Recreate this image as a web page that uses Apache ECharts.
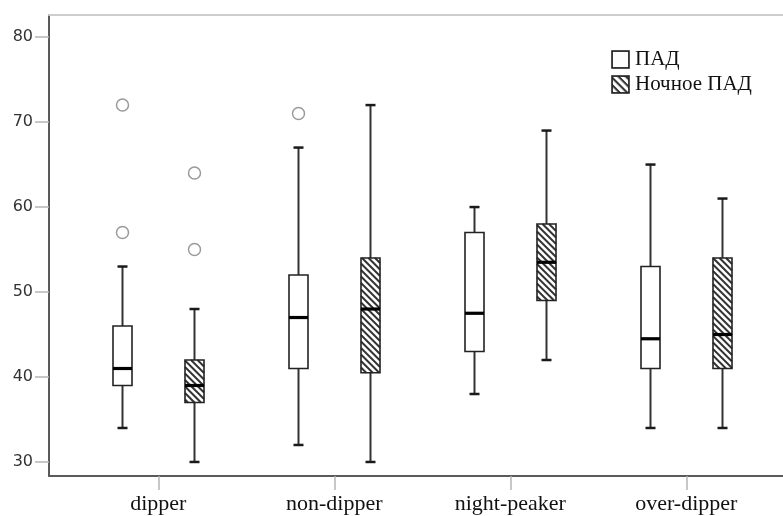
<!DOCTYPE html>
<html>
<head>
<meta charset="utf-8">
<script src="https://cdn.jsdelivr.net/npm/echarts@6/dist/echarts.min.js"></script>
<style>
html,body{margin:0;padding:0;background:#fff;}
#chart{width:783px;height:516px;}
</style>
</head>
<body>
<div id="chart"></div>
<script>
// ---- data ----
const categories = ['dipper', 'non-dipper', 'night-peaker', 'over-dipper'];
const seriesNames = ['ПАД', 'Ночное ПАД'];
const padMin = [34, 32, 38, 34];
const padQ1 = [39, 41, 43, 41];
const padMedian = [41, 47, 47.5, 44.5];
const padQ3 = [46, 52, 57, 53];
const padMax = [53, 67, 60, 65];
const padOutliers = [[72, 57], [71], [], []];
const nightMin = [30, 30, 42, 34];
const nightQ1 = [37, 40.5, 49, 41];
const nightMedian = [39, 48, 53.5, 45];
const nightQ3 = [42, 54, 58, 54];
const nightMax = [48, 72, 69, 61];
const nightOutliers = [[64, 55], [], [], []];
const yTicks = [30, 40, 50, 60, 70, 80];
const xTicks = [1, 2, 3, 4];

// ---- styles ----
const BOX_W = 19;
const CAP_W = 10;
const OFFSET = 35.8;
const STRIPE_STEP = 6.5;
const X_MIN = 0.379, X_MAX = 4.5495;

function buildData(mn, q1, md, q3, mx) {
  return categories.map((c, i) => [i + 1, mn[i], q1[i], md[i], q3[i], mx[i]]);
}

function makeRender(offsetPx, striped, outliers) {
  return function (params, api) {
    const i = params.dataIndex;
    const x = api.value(0);
    const pMin = api.coord([x, api.value(1)]);
    const pQ1 = api.coord([x, api.value(2)]);
    const pMed = api.coord([x, api.value(3)]);
    const pQ3 = api.coord([x, api.value(4)]);
    const pMax = api.coord([x, api.value(5)]);
    const cx = Math.round(pMin[0] + offsetPx) + 0.5;
    const half = BOX_W / 2;
    const x0 = cx - half, x1 = cx + half;
    const y0 = pQ3[1], y1 = pQ1[1];
    const children = [];
    const wStyle = { stroke: '#333', lineWidth: 2 };
    const cStyle = { stroke: '#1a1a1a', lineWidth: 2.5 };
    children.push({ type: 'line', shape: { x1: cx, y1: pMax[1], x2: cx, y2: y0 }, style: wStyle });
    children.push({ type: 'line', shape: { x1: cx, y1: y1, x2: cx, y2: pMin[1] }, style: wStyle });
    children.push({ type: 'line', shape: { x1: cx - CAP_W / 2, y1: pMax[1], x2: cx + CAP_W / 2, y2: pMax[1] }, style: cStyle });
    children.push({ type: 'line', shape: { x1: cx - CAP_W / 2, y1: pMin[1], x2: cx + CAP_W / 2, y2: pMin[1] }, style: cStyle });
    children.push({ type: 'rect', shape: { x: x0, y: y0, width: BOX_W, height: y1 - y0 }, style: { fill: '#fff', stroke: null } });
    if (striped) {
      const cStart = y0 - x1, cEnd = y1 - x0;
      const phase = Math.floor(cStart / STRIPE_STEP) * STRIPE_STEP;
      for (let c = phase; c <= cEnd; c += STRIPE_STEP) {
        const lo = Math.max(x0, y0 - c);
        const hi = Math.min(x1, y1 - c);
        if (hi > lo) {
          children.push({ type: 'line', shape: { x1: lo, y1: lo + c, x2: hi, y2: hi + c }, style: { stroke: '#333', lineWidth: 2 } });
        }
      }
    }
    children.push({ type: 'rect', shape: { x: x0, y: y0, width: BOX_W, height: y1 - y0 }, style: { fill: null, stroke: '#222', lineWidth: 1.6 } });
    children.push({ type: 'line', shape: { x1: x0, y1: pMed[1], x2: x1, y2: pMed[1] }, style: { stroke: '#000', lineWidth: 3.2 } });
    (outliers[i] || []).forEach(v => {
      const p = api.coord([x, v]);
      children.push({ type: 'circle', shape: { cx: cx, cy: p[1], r: 6 }, style: { fill: null, stroke: '#9a9a9a', lineWidth: 1.5 } });
    });
    return { type: 'group', children: children };
  };
}

const plainIcon = 'image://data:image/svg+xml;charset=utf-8,' + encodeURIComponent(
  "<svg xmlns='http://www.w3.org/2000/svg' width='18' height='18'><rect x='1' y='1' width='16' height='16' fill='#fff' stroke='#222' stroke-width='1.6'/></svg>");
const stripedIcon = 'image://data:image/svg+xml;charset=utf-8,' + encodeURIComponent(
  "<svg xmlns='http://www.w3.org/2000/svg' width='18' height='18'><defs><pattern id='p' width='5' height='5' patternUnits='userSpaceOnUse' patternTransform='rotate(45)'><rect width='5' height='2' fill='#333'/></pattern></defs><rect x='1' y='1' width='16' height='16' fill='#fff'/><rect x='1' y='1' width='16' height='16' fill='url(#p)' stroke='#222' stroke-width='1.6'/></svg>");

const chart = echarts.init(document.getElementById('chart'), null, { renderer: 'canvas' });
chart.setOption({
  backgroundColor: '#fff',
  animation: false,
  grid: { left: 49, top: 15, right: 0, bottom: 40, show: false },
  legend: {
    orient: 'vertical', left: 611, top: 49, padding: 0, itemWidth: 19, itemHeight: 19, itemGap: 4,
    selectedMode: false,
    textStyle: { fontFamily: 'Liberation Serif', fontSize: 21, color: '#111' },
    data: [{ name: seriesNames[0], icon: plainIcon }, { name: seriesNames[1], icon: stripedIcon }]
  },
  xAxis: [{
    type: 'value', min: X_MIN, max: X_MAX,
    splitLine: { show: false },
    axisLine: { show: true, lineStyle: { color: '#5a5a5a', width: 2 } },
    axisTick: { show: true, length: 14, customValues: xTicks, lineStyle: { color: '#b5b5b5', width: 1.5 } },
    axisLabel: {
      customValues: xTicks, margin: 17,
      fontFamily: 'Liberation Serif', fontSize: 22, color: '#111',
      formatter: v => categories[Math.round(v) - 1] || ''
    }
  }, {
    type: 'value', position: 'top', min: X_MIN, max: X_MAX,
    splitLine: { show: false },
    axisLine: { show: true, lineStyle: { color: '#cdcdcd', width: 2 } },
    axisTick: { show: false },
    axisLabel: { show: false }
  }],
  yAxis: {
    type: 'value', min: 28.35, max: 82.6,
    splitLine: { show: false },
    axisLine: { show: true, lineStyle: { color: '#5a5a5a', width: 2 } },
    axisTick: { show: true, length: 14, customValues: yTicks, lineStyle: { color: '#b5b5b5', width: 1.5 } },
    axisLabel: { customValues: yTicks, margin: 16, fontFamily: 'DejaVu Sans', fontSize: 16, color: '#333' }
  },
  series: [
    {
      name: seriesNames[0], type: 'custom',
      renderItem: makeRender(-OFFSET, false, padOutliers),
      encode: { x: 0, y: [1, 2, 3, 4, 5] },
      itemStyle: { color: '#fff' },
      data: buildData(padMin, padQ1, padMedian, padQ3, padMax)
    },
    {
      name: seriesNames[1], type: 'custom',
      renderItem: makeRender(OFFSET, true, nightOutliers),
      encode: { x: 0, y: [1, 2, 3, 4, 5] },
      itemStyle: { color: '#888' },
      data: buildData(nightMin, nightQ1, nightMedian, nightQ3, nightMax)
    }
  ]
});
</script>
</body>
</html>
